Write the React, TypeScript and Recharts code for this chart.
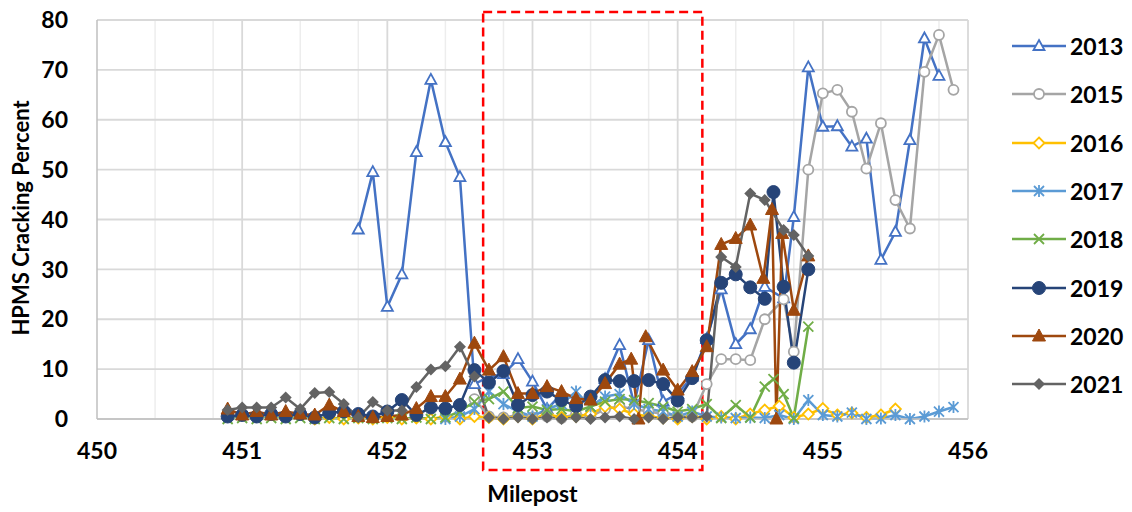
import React from 'react';
import {
  CartesianGrid,
  Label,
  Line,
  LineChart,
  ReferenceArea,
  XAxis,
  YAxis,
} from 'recharts';

// milepost / HPMS cracking percent
type Pt = [number, number];

const S2013: Pt[] = [
  [451.8, 38], [451.9, 49.5], [452.0, 22.5], [452.1, 29], [452.2, 53.5], [452.3, 68],
  [452.4, 55.5], [452.5, 48.5], [452.6, 7], [452.7, 8.5], [452.8, 9], [452.9, 12],
  [453.0, 7.5], [453.1, 2], [453.2, 5], [453.3, 4], [453.4, 4], [453.5, 8],
  [453.6, 14.8], [453.7, 3], [453.8, 15.8], [453.9, 3.5], [454.0, 5], [454.1, 8.5],
  [454.2, 16], [454.3, 26], [454.4, 15], [454.5, 18], [454.6, 26.5], [454.73, 24.2],
  [454.8, 40.5], [454.9, 70.5], [455.0, 58.6], [455.1, 58.7], [455.2, 54.6], [455.3, 56.2],
  [455.4, 31.9], [455.5, 37.5], [455.6, 55.9], [455.7, 76.3], [455.8, 68.8],
];

const S2015: Pt[] = [
  [452.6, 4], [452.7, 0.5], [452.8, 0.3], [452.9, 0.8], [453.0, 0.3], [453.1, 0.5],
  [453.2, 0.2], [453.3, 1], [453.4, 0.5], [453.5, 2], [453.6, 2.5], [453.7, 2],
  [453.8, 1.5], [453.9, 1], [454.0, 0.5], [454.1, 0.5], [454.2, 7], [454.3, 12],
  [454.4, 12], [454.5, 11.8], [454.6, 20], [454.73, 24], [454.8, 13.5], [454.9, 50],
  [455.0, 65.3], [455.1, 66], [455.2, 61.6], [455.3, 50.2], [455.4, 59.3], [455.5, 43.9],
  [455.6, 38.2], [455.7, 69.6], [455.8, 77], [455.9, 66],
];

const S2016: Pt[] = [
  [451.5, 0], [451.6, 0.3], [451.7, 0], [451.8, 0.2], [451.9, 0], [452.0, 0.3],
  [452.1, 0], [452.2, 0.2], [452.3, 0], [452.4, 0.5], [452.5, 0], [452.6, 0.5],
  [452.7, 0.3], [452.8, 0], [452.9, 0.5], [453.0, 0], [453.1, 1], [453.2, 0.3],
  [453.3, 0.5], [453.4, 1], [453.5, 2.5], [453.6, 2], [453.7, 1], [453.8, 0.5],
  [453.9, 0.2], [454.0, 0], [454.1, 0.5], [454.2, 0], [454.3, 0.5], [454.4, 0],
  [454.5, 1], [454.6, 1.8], [454.7, 2.6], [454.8, 0.3], [454.9, 1], [455.0, 2.1],
  [455.1, 0.8], [455.2, 1.2], [455.3, 0.3], [455.4, 0.8], [455.5, 2],
];

const S2017: Pt[] = [
  [452.4, 0], [452.5, 0.5], [452.6, 2], [452.7, 5.5], [452.8, 3], [452.9, 1.5],
  [453.0, 0.5], [453.1, 2], [453.2, 3], [453.3, 5.5], [453.4, 2.5], [453.5, 4.5],
  [453.6, 5], [453.7, 3], [453.8, 2], [453.9, 1.5], [454.0, 0.5], [454.1, 1.5],
  [454.2, 0.5], [454.3, 0.3], [454.4, 0.2], [454.5, 0.3], [454.6, 0.2], [454.7, 0.8],
  [454.8, 0], [454.9, 3.8], [455.0, 0.8], [455.1, 0.5], [455.2, 1.3], [455.3, 0],
  [455.4, 0.1], [455.5, 0.8], [455.6, 0], [455.7, 0.5], [455.8, 1.5], [455.9, 2.4],
];

const S2018: Pt[] = [
  [450.9, 0], [451.0, 0.2], [451.1, 0], [451.2, 0.2], [451.3, 0], [451.4, 0.2],
  [451.5, 0], [451.6, 0.2], [451.7, 0], [451.8, 0.2], [451.9, 0], [452.0, 0.2],
  [452.1, 0], [452.2, 0.3], [452.3, 0], [452.4, 0.3], [452.5, 1.5], [452.6, 3.5],
  [452.7, 4], [452.8, 5.5], [452.9, 2.2], [453.0, 2.5], [453.1, 1.8], [453.2, 2],
  [453.3, 1.5], [453.4, 2.5], [453.5, 3.5], [453.6, 4], [453.7, 3.8], [453.8, 3.2],
  [453.9, 2.5], [454.0, 1.5], [454.1, 2], [454.2, 3], [454.3, 0.2], [454.4, 2.8],
  [454.5, 0.3], [454.6, 6.5], [454.66, 8], [454.73, 5], [454.8, 0.2], [454.9, 18.5],
];

const S2019: Pt[] = [
  [450.9, 0.5], [451.0, 0.8], [451.1, 0.5], [451.2, 1], [451.3, 0.5], [451.4, 1],
  [451.5, 0.3], [451.6, 1.2], [451.7, 1.5], [451.8, 1], [451.9, 0.5], [452.0, 1.5],
  [452.1, 3.8], [452.2, 0.8], [452.3, 2.3], [452.4, 2.1], [452.5, 2.8], [452.6, 9.8],
  [452.7, 7.3], [452.8, 9.6], [452.9, 2.8], [453.0, 4.8], [453.1, 5.5], [453.2, 3.8],
  [453.3, 2.6], [453.4, 4.5], [453.5, 7.8], [453.6, 7.6], [453.7, 7.6], [453.8, 7.8],
  [453.9, 7], [454.0, 3.7], [454.1, 8.2], [454.2, 15.8], [454.3, 27.3], [454.4, 29],
  [454.5, 26.4], [454.6, 24.1], [454.66, 45.5], [454.73, 26.5], [454.8, 11.3], [454.9, 30],
];

const S2020: Pt[] = [
  [450.9, 2], [451.0, 0.8], [451.1, 1.5], [451.2, 0.8], [451.3, 1.5], [451.4, 1],
  [451.5, 0.8], [451.6, 2.8], [451.7, 1.5], [451.8, 0.5], [451.9, 0.3], [452.0, 0.5],
  [452.1, 0.8], [452.2, 2.1], [452.3, 4.5], [452.4, 4.5], [452.5, 8], [452.6, 15.2],
  [452.7, 9.8], [452.8, 12.5], [452.9, 5.1], [453.0, 5.1], [453.1, 6.5], [453.2, 5.5],
  [453.3, 4.1], [453.4, 3.8], [453.5, 7.1], [453.6, 11], [453.68, 12], [453.73, 0],
  [453.78, 16.5], [453.9, 9.8], [454.0, 5.8], [454.1, 9.5], [454.2, 14.5], [454.3, 35],
  [454.4, 36.2], [454.5, 38.9], [454.59, 28.2], [454.65, 42], [454.68, 0], [454.72, 37.2],
  [454.8, 21.8], [454.9, 32.7],
];

const S2021: Pt[] = [
  [450.9, 1.8], [451.0, 2.3], [451.1, 2.3], [451.2, 2.3], [451.3, 4.3], [451.4, 2],
  [451.5, 5.2], [451.6, 5.4], [451.7, 3], [451.8, 0.3], [451.9, 3.4], [452.0, 1.7],
  [452.1, 1.7], [452.2, 6.4], [452.3, 9.9], [452.4, 10.6], [452.5, 14.5], [452.6, 8.5],
  [452.7, 0.3], [452.8, 0], [452.9, 0.3], [453.0, 0], [453.1, 0.3], [453.2, 0],
  [453.3, 0.3], [453.4, 0], [453.5, 0.3], [453.6, 0.5], [453.7, 0], [453.8, 0.3],
  [453.9, 0], [454.0, 0.3], [454.1, 0.3], [454.2, 0.5], [454.3, 32.5], [454.4, 30.5],
  [454.5, 45.2], [454.6, 43.9], [454.73, 37.9], [454.8, 36.9], [454.9, 32.7],
];

const X_TICKS = [450, 451, 452, 453, 454, 455, 456];
const X_MAJOR_GRID = [451, 452, 453, 454, 455, 456];
const X_MINOR_GRID = Array.from({ length: 31 }, (_, i) => Math.round((450 + 0.2 * i) * 10) / 10).filter(
  (v) => Math.abs(v - Math.round(v)) > 0.01,
);
const Y_TICKS = [0, 10, 20, 30, 40, 50, 60, 70, 80];
const FOCUS_ZONE = [452.66, 454.17];

type MarkerKind = 'triOpen' | 'circleOpen' | 'diamondOpen' | 'asterisk' | 'cross' | 'circle' | 'tri' | 'diamond';

interface SeriesDef {
  name: string;
  points: Pt[];
  color: string;
  marker: MarkerKind;
}

const SERIES: SeriesDef[] = [
  { name: '2013', points: S2013, color: '#4472C4', marker: 'triOpen' },
  { name: '2015', points: S2015, color: '#A5A5A5', marker: 'circleOpen' },
  { name: '2016', points: S2016, color: '#FFC000', marker: 'diamondOpen' },
  { name: '2017', points: S2017, color: '#5B9BD5', marker: 'asterisk' },
  { name: '2018', points: S2018, color: '#70AD47', marker: 'cross' },
  { name: '2019', points: S2019, color: '#264478', marker: 'circle' },
  { name: '2020', points: S2020, color: '#9E480E', marker: 'tri' },
  { name: '2021', points: S2021, color: '#636363', marker: 'diamond' },
];

const FONT = 'Lato, "Open Sans", sans-serif';
const TICK_STYLE = { fontSize: 23, fontWeight: 700, fill: '#000', fontFamily: FONT };

function Marker({ kind, color, cx, cy }: { kind: MarkerKind; color: string; cx: number; cy: number }) {
  switch (kind) {
    case 'triOpen':
      return (
        <path
          d={`M${cx},${cy - 6} L${cx + 5.5},${cy + 4} L${cx - 5.5},${cy + 4} Z`}
          fill="#fff"
          stroke={color}
          strokeWidth={1.8}
        />
      );
    case 'tri':
      return <path d={`M${cx},${cy - 7} L${cx + 6.5},${cy + 5} L${cx - 6.5},${cy + 5} Z`} fill={color} stroke={color} />;
    case 'circleOpen':
      return <circle cx={cx} cy={cy} r={5} fill="#fff" stroke={color} strokeWidth={1.8} />;
    case 'circle':
      return <circle cx={cx} cy={cy} r={6.5} fill={color} stroke={color} />;
    case 'diamondOpen':
      return (
        <path
          d={`M${cx},${cy - 5.5} L${cx + 5.5},${cy} L${cx},${cy + 5.5} L${cx - 5.5},${cy} Z`}
          fill="#fff"
          stroke={color}
          strokeWidth={1.8}
        />
      );
    case 'diamond':
      return <path d={`M${cx},${cy - 6} L${cx + 6},${cy} L${cx},${cy + 6} L${cx - 6},${cy} Z`} fill={color} />;
    case 'asterisk':
      return (
        <path
          d={`M${cx - 5},${cy - 5} L${cx + 5},${cy + 5} M${cx - 5},${cy + 5} L${cx + 5},${cy - 5} M${cx},${cy - 6} L${cx},${cy + 6}`}
          stroke={color}
          strokeWidth={1.8}
          fill="none"
        />
      );
    case 'cross':
    default:
      return (
        <path
          d={`M${cx - 5},${cy - 5} L${cx + 5},${cy + 5} M${cx - 5},${cy + 5} L${cx + 5},${cy - 5}`}
          stroke={color}
          strokeWidth={1.8}
          fill="none"
        />
      );
  }
}

const makeDot = (s: SeriesDef) => (props: any) => {
  const { cx, cy, index } = props;
  if (cx == null || cy == null) return <g key={`${s.name}-${index}`} />;
  return (
    <g key={`${s.name}-${index}`}>
      <Marker kind={s.marker} color={s.color} cx={cx} cy={cy} />
    </g>
  );
};

// dashed red box, pulled out past the plot top and down over the tick labels
function FocusBox(props: any) {
  const { x, y, width, height } = props;
  return (
    <rect
      x={x}
      y={y - 8}
      width={width}
      height={height + 59}
      fill="none"
      stroke="#FF0000"
      strokeWidth={2.5}
      strokeDasharray="9 5"
    />
  );
}

function YTitle(props: any) {
  const cx = 20;
  const cy = 218;
  return (
    <text
      x={cx}
      y={cy}
      transform={`rotate(-90, ${cx}, ${cy})`}
      textAnchor="middle"
      dominantBaseline="central"
      style={{ fontSize: 22, fontWeight: 700, fontFamily: FONT, fill: '#000' }}
    >
      HPMS Cracking Percent
    </text>
  );
}

function SideLegend() {
  return (
    <div style={{ position: 'absolute', left: 1012, top: 22, fontFamily: FONT }}>
      {SERIES.map((s) => (
        <div key={s.name} style={{ display: 'flex', alignItems: 'center', height: 48.3 }}>
          <svg width={56} height={20}>
            <line x1={0} y1={10} x2={54} y2={10} stroke={s.color} strokeWidth={2.5} />
            <Marker kind={s.marker} color={s.color} cx={27} cy={10} />
          </svg>
          <span style={{ fontSize: 23, fontWeight: 700, color: '#000', marginLeft: 2 }}>{s.name}</span>
        </div>
      ))}
    </div>
  );
}

export default function App() {
  return (
    <div style={{ position: 'absolute', left: 0, top: 0, width: 1132, height: 512, background: '#fff' }}>
      <LineChart width={1132} height={512} margin={{ top: 20, right: 164, bottom: 0, left: 0 }}>
        <CartesianGrid horizontal={false} verticalValues={X_MINOR_GRID} stroke="#EDEDED" strokeWidth={1.5} />
        <CartesianGrid verticalValues={X_MAJOR_GRID} stroke="#D9D9D9" strokeWidth={1.8} />
        <XAxis
          type="number"
          dataKey="x"
          domain={[450, 456]}
          ticks={X_TICKS}
          allowDataOverflow
          height={93}
          stroke="#BFBFBF"
          strokeWidth={1.5}
          tickLine={false}
          tickSize={0}
          tickMargin={24}
          tick={TICK_STYLE}
        >
          <Label
            value="Milepost"
            position="insideBottom"
            offset={10}
            style={{ fontSize: 23, fontWeight: 700, fontFamily: FONT, fill: '#000' }}
          />
        </XAxis>
        <YAxis
          type="number"
          domain={[0, 80]}
          ticks={Y_TICKS}
          width={97}
          stroke="#BFBFBF"
          strokeWidth={1.5}
          tickLine={false}
          tickSize={0}
          tickMargin={29}
          tick={TICK_STYLE}
        >
          <Label content={<YTitle />} />
        </YAxis>
        {SERIES.map((s) => (
          <Line
            key={s.name}
            data={s.points.map(([x, y]) => ({ x, y }))}
            dataKey="y"
            name={s.name}
            type="linear"
            stroke={s.color}
            strokeWidth={2.5}
            dot={makeDot(s)}
            activeDot={false}
            isAnimationActive={false}
          />
        ))}
        <ReferenceArea
          x1={FOCUS_ZONE[0]}
          x2={FOCUS_ZONE[1]}
          y1={0}
          y2={80}
          ifOverflow="visible"
          shape={<FocusBox />}
        />
      </LineChart>
      <SideLegend />
    </div>
  );
}
